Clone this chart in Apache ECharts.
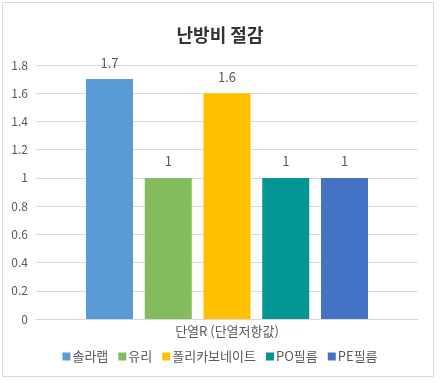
<!DOCTYPE html>
<html><head><meta charset="utf-8">
<script src="https://cdn.jsdelivr.net/npm/echarts@6/dist/echarts.min.js"></script>
<style>html,body{margin:0;padding:0;background:#fff}#c{width:440px;height:383px}</style>
</head><body><div id="c"></div>
<script>
const title = '난방비 절감';
const categories = ['단열R (단열저항값)'];
const seriesNames = ['솔라랩', '유리', '폴리카보네이트', 'PO필름', 'PE필름'];
const seriesValues = [[1.7], [1], [1.6], [1], [1]];
const colors = ['#5B9BD5', '#82BC5C', '#FFC000', '#039494', '#4472C4'];
const font = '"Noto Sans CJK KR", "Noto Sans", sans-serif';
const chart = echarts.init(document.getElementById('c'));
chart.setOption({
  animation: false,
  textStyle: { fontFamily: font },
  title: { text: title, left: 'center', top: 21, textStyle: { fontSize: 18, fontWeight: 'bold', color: '#333', fontFamily: font } },
  graphic: [{ type: 'rect', shape: { x: 2.5, y: 2.5, width: 431, height: 374 }, style: { fill: 'none', stroke: '#D9D9D9', lineWidth: 1 }, silent: true }],
  legend: { bottom: 15, left: 'center', itemWidth: 8, itemHeight: 8, itemGap: 10, icon: 'rect',
    textStyle: { fontSize: 13, color: '#595959', fontFamily: font, padding: [0, 0, 0, -3] }, data: seriesNames },
  grid: { left: 36, right: 22, top: 65, bottom: 64, containLabel: false },
  xAxis: { type: 'category', data: categories, axisTick: { show: false },
    axisLine: { lineStyle: { color: '#D9D9D9' } },
    axisLabel: { fontSize: 13, color: '#595959', margin: 6, fontFamily: font } },
  yAxis: { type: 'value', min: 0, max: 1.8, interval: 0.2, axisLine: { show: false }, axisTick: { show: false },
    splitLine: { lineStyle: { color: '#D9D9D9' } },
    axisLabel: { fontSize: 12, color: '#595959', margin: 8, formatter: v => String(Math.round(v * 10) / 10) } },
  series: seriesNames.map((n, i) => ({
    name: n, type: 'bar', data: seriesValues[i], barWidth: 47, barGap: '25%',
    itemStyle: { color: colors[i] },
    label: { show: true, position: 'top', distance: 10, fontSize: 13, color: '#595959', fontFamily: font }
  }))
});
</script></body></html>
